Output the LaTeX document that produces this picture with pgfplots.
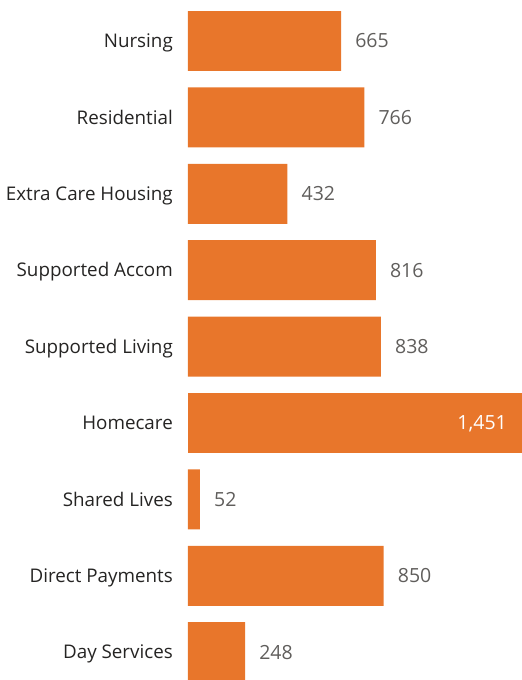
\documentclass[border=0pt]{standalone}
\usepackage{pgfplots}
\pgfplotsset{compat=1.18}
\usepackage{fontspec}
\setmainfont{Open Sans}
\definecolor{barorange}{HTML}{E8762B}
\definecolor{catcol}{HTML}{252423}
\definecolor{valcol}{HTML}{605E5C}
\begin{document}
\begin{tikzpicture}[x=1pt,y=1pt]
\useasboundingbox (0,0) rectangle (522,680);
\begin{axis}[
  at={(188pt,680pt)}, anchor=north west,
  scale only axis, width=334pt, height=680pt,
  xbar, bar width=0.785, bar shift=0pt,
  xmin=0, xmax=1451, ymin=-0.5366, ymax=8.364, y dir=reverse,
  axis line style={draw=none},
  major tick length=0pt,
  xtick=\empty,
  ytick={0,1,2,3,4,5,6,7,8},
  yticklabels={Nursing,Residential,Extra Care Housing,Supported Accom,Supported Living,Homecare,Shared Lives,Direct Payments,Day Services},
  yticklabel style={font=\fontsize{18.8}{22}\selectfont, text=catcol, inner sep=0pt, anchor=base east, xshift=-15pt, yshift=-6.7pt},
  /pgf/number format/assume math mode=true,
  /pgf/number format/1000 sep={,},
  clip=true,
]
\addplot[fill=barorange, draw=none,
  nodes near coords,
  every node near coord/.append style={font=\fontsize{19.5}{22}\selectfont, text=valcol, anchor=base west, inner sep=0pt, xshift=14pt, yshift=-7pt},
] coordinates {(665,0) (766,1) (432,2) (816,3) (838,4) (52,6) (850,7) (248,8)};
\addplot[fill=barorange, draw=none,
  nodes near coords,
  every node near coord/.append style={font=\fontsize{19.5}{22}\selectfont, text=white, anchor=base east, inner sep=0pt, xshift=-15pt, yshift=-7pt},
] coordinates {(1451,5)};
\end{axis}
\end{tikzpicture}
\end{document}
